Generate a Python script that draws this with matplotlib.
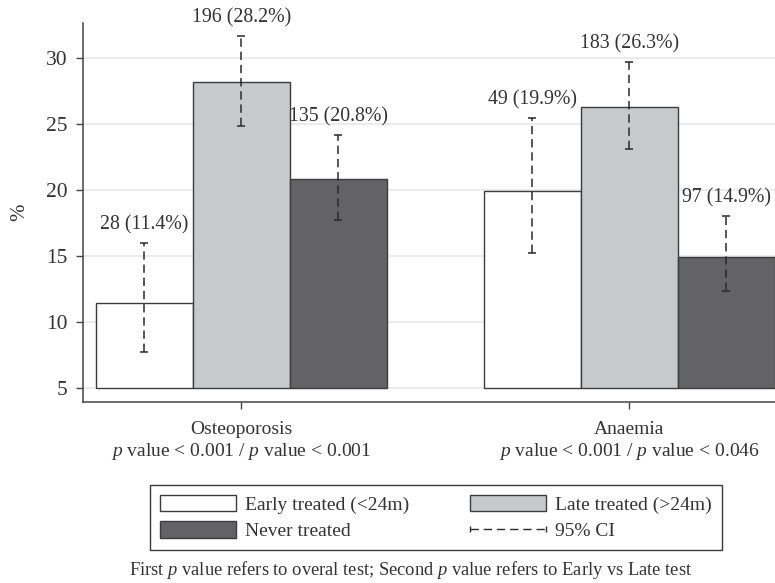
import matplotlib
matplotlib.use("Agg")
import matplotlib.pyplot as plt
import numpy as np
from matplotlib.patches import Patch
from matplotlib.lines import Line2D
from matplotlib.legend_handler import HandlerBase

plt.rcParams["font.family"] = ["Liberation Serif", "DejaVu Serif"]
plt.rcParams["mathtext.fontset"] = "custom"
plt.rcParams["mathtext.rm"] = "Liberation Serif"
plt.rcParams["mathtext.it"] = "Liberation Serif:italic"
plt.rcParams["lines.scale_dashes"] = False

# prevalence (%) by treatment group, with 95% CI and counts
conditions = ["Osteoporosis", "Anaemia"]
p_values = ["$p$ value < 0.001 / $p$ value < 0.001",
            "$p$ value < 0.001 / $p$ value < 0.046"]
groups = ["Early treated (<24m)", "Late treated (>24m)", "Never treated"]
counts = [[28, 196, 135], [49, 183, 97]]
pct = [[11.4, 28.2, 20.8], [19.9, 26.3, 14.9]]
ci_low = [[7.7, 24.85, 17.7], [15.2, 23.1, 12.3]]
ci_high = [[16.0, 31.65, 24.15], [25.45, 29.7, 18.0]]
yticks = [5, 10, 15, 20, 25, 30]

colors = ["#ffffff", "#c8c9cb", "#636365"]
edge = "#3c3c3c"
txt = "#333333"
base = 5

fig = plt.figure(figsize=(7.75, 5.83), dpi=100)
ax = fig.add_axes([83 / 775, 181 / 583, 692 / 775, 379 / 583])

centers = []
for gi in range(len(conditions)):
    for si in range(len(groups)):
        x = gi * 4 + si
        v = pct[gi][si]
        ax.bar(x, v - base, bottom=base, width=1.0, color=colors[si],
               edgecolor=edge, linewidth=1.0, zorder=2)
        lo, hi = ci_low[gi][si], ci_high[gi][si]
        eb = ax.errorbar(x, v, yerr=[[v - lo], [hi - v]], fmt="none",
                         ecolor="#2a2a2a", elinewidth=1.1, capsize=3,
                         capthick=1.1, zorder=3)
        eb[2][0].set_linestyle((0, (6, 3.5)))
        ax.annotate(f"{counts[gi][si]} ({v:.1f}%)", (x, hi),
                    xytext=(0, 6), textcoords="offset points",
                    ha="center", va="bottom", fontsize=14.3, color=txt)
    centers.append(gi * 4 + 1)

ax.set_xlim(-0.633, 6.5)
ax.set_ylim(3.916, 32.65)
ax.set_yticks(yticks)
ax.set_xticks(centers)
ax.set_xticklabels([f"{c}\n{p}" for c, p in zip(conditions, p_values)],
                   linespacing=1.15)
ax.set_ylabel("%", fontsize=15, color=txt, labelpad=12)

ax.set_axisbelow(True)
ax.yaxis.grid(True, color="#e8e8e8", linewidth=1.2)
for side in ["top", "right"]:
    ax.spines[side].set_visible(False)
for side in ["left", "bottom"]:
    ax.spines[side].set_color("#444444")
    ax.spines[side].set_linewidth(1.1)
ax.tick_params(axis="both", direction="out", length=5, width=1,
               color="#444444", labelsize=14, labelcolor=txt)
ax.tick_params(axis="y", pad=6, labelsize=15.5)
ax.tick_params(axis="x", pad=9)


class CIHandler(HandlerBase):
    def create_artists(self, legend, orig_handle, xdescent, ydescent,
                       width, height, fontsize, trans):
        y = height / 2 - ydescent
        x0, x1 = -xdescent, -xdescent + width
        line = Line2D([x0, x1], [y, y], color="#2a2a2a", lw=1.0,
                      linestyle=(0, (6, 3.5)), transform=trans)
        caps = Line2D([x0, x1], [y, y], linestyle="none", marker="|",
                      markersize=5, markeredgewidth=1.0,
                      color="#2a2a2a", transform=trans)
        return [line, caps]


handles = [Patch(facecolor=colors[0], edgecolor=edge),
           Patch(facecolor=colors[2], edgecolor=edge),
           Patch(facecolor=colors[1], edgecolor=edge),
           "ci"]
labels = [groups[0], groups[2], groups[1], "95% CI"]
leg = fig.legend(handles, labels, handler_map={str: CIHandler()},
                 loc="upper center", bbox_to_anchor=(436 / 775, 1 - 485 / 583),
                 ncol=2, fontsize=14, frameon=True, fancybox=False,
                 framealpha=1, edgecolor="#3a3a3a", handlelength=3.9,
                 handleheight=0.93, handletextpad=0.5, columnspacing=3.1,
                 borderpad=0.5, labelspacing=0.38, borderaxespad=0)
leg.get_frame().set_linewidth(1.0)
for t in leg.get_texts():
    t.set_color(txt)

fig.text(411 / 775, 1 - 570 / 583,
         "First $p$ value refers to overal test; Second $p$ value refers to Early vs Late test",
         ha="center", va="center", fontsize=13.3, color=txt)

fig.savefig("out.png", dpi=100)
